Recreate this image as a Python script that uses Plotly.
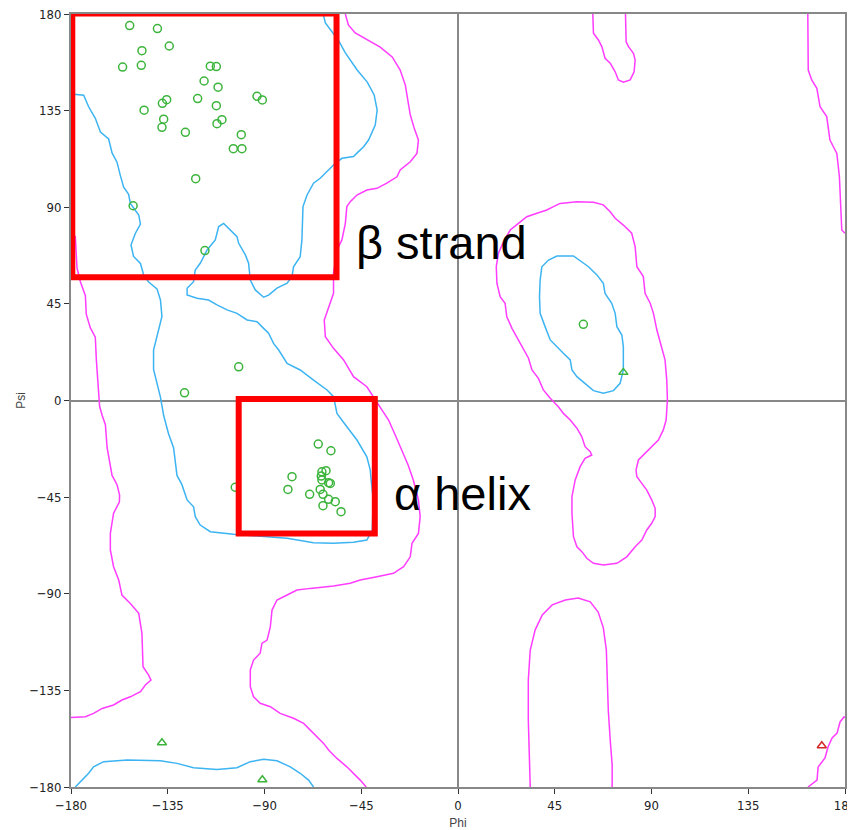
import plotly.graph_objects as go

# ---------------- data (phi, psi in degrees) ----------------
general_phi = [-152.7, -139.8, -134.3, -147.0, -156.0, -147.3, -115.2, -112.4, -118.1, -111.6,
               -93.5, -91.0, -121.1, -112.4, -135.5, -137.5, -146.0, -136.9, -137.7, -109.8,
               -112.1, -126.8, -100.8, -104.5, -100.5, -122.0, -151.1, -117.7,
               -102.0, -127.2, -103.6,
               -65.0, -59.1, -77.2, -79.1, -69.0, -63.3, -61.4, -63.6, -63.3, -60.2,
               -59.4, -64.1, -62.8, -60.2, -57.1, -62.8, -54.4,
               58.3]
general_psi = [174.6, 173.2, 165.1, 162.9, 155.3, 156.1, 155.7, 155.5, 148.8, 145.9,
               141.7, 140.0, 140.6, 137.3, 140.1, 138.4, 135.2, 131.0, 127.2, 130.8,
               128.9, 124.9, 123.8, 117.3, 117.3, 103.3, 90.7, 69.8,
               15.7, 3.6, -40.4,
               -20.3, -23.4, -35.5, -41.4, -43.7, -33.2, -32.7, -35.2, -37.0, -38.3,
               -38.6, -41.4, -43.7, -46.0, -47.1, -49.0, -51.8,
               35.5]

glycine_phi = [76.9, -137.7, -91.0]
glycine_psi = [13.1, -159.4, -176.6]

outlier_phi = [169.2]
outlier_psi = [-160.8]

# favoured-region contour (blue)
fav_main_phi = [-180, -178.0, -174.1, -171.8, -168.7, -166.3, -162.5, -160.9, -158.6, -157.0,
                -155.5, -153.2, -152.4, -148.5, -147.7, -150.1, -152.1, -150.9, -147.7, -146.2,
                -143.9, -140.0, -138.4, -137.7, -140.0, -141.6, -141.6, -140.0, -138.4, -136.9,
                -134.6, -132.3, -130.7, -128.4, -126.0, -123.0, -122.2, -119.9, -115.2, -104.4,
                -92.0, -79.5, -67.2, -57.9, -48.6, -42.4, -39.9, -39.4, -40.4, -40.8,
                -42.4, -47.0, -51.7, -56.3, -57.9, -60.9, -67.2, -73.4, -79.5, -83.4,
                -85.8, -88.1, -90.4, -93.5, -98.1, -102.8, -107.4, -112.1, -116.0, -121.4,
                -126.0, -126.0, -123.0, -122.2, -119.9, -116.7, -112.9, -111.3, -109.0, -106.7,
                -102.8, -102.0, -98.9, -97.4, -96.6, -94.3, -90.4, -88.1, -84.2, -79.5,
                -77.2, -76.5, -73.4, -72.6, -72.1, -70.2, -67.2, -64.1, -60.2, -57.9,
                -54.0, -48.6, -46.3, -43.9, -41.6, -38.5, -37.6, -39.0, -42.2, -46.9,
                -52.4, -55.7, -61.7, -62.7]
fav_main_psi = [142.8, 142.6, 142.2, 136.8, 131.4, 125.0, 121.8, 115.3, 111.0, 104.6,
                99.3, 96.0, 91.8, 86.4, 82.1, 77.8, 72.4, 67.1, 63.8, 58.5,
                55.2, 52.0, 46.8, 39.1, 30.5, 23.5, 14.5, 8.0, 1.6, -7.0,
                -15.6, -22.0, -34.9, -39.2, -46.3, -49.5, -54.1, -58.0, -61.1, -62.3,
                -63.1, -64.2, -66.2, -66.5, -66.0, -65.0, -60.3, -46.3, -37.0, -32.4,
                -26.2, -18.4, -12.2, -6.0, 1.8, 4.9, 9.5, 14.2, 17.3, 23.5,
                26.6, 31.3, 33.6, 36.7, 37.5, 40.6, 42.2, 44.5, 46.8, 47.6,
                49.1, 52.3, 55.3, 60.8, 63.9, 70.1, 74.8, 81.0, 82.5, 80.2,
                76.3, 73.2, 67.8, 63.9, 56.1, 51.5, 48.1, 49.1, 52.3, 54.6,
                57.7, 62.3, 67.0, 74.8, 90.3, 95.7, 101.2, 103.5, 107.4, 109.7,
                112.8, 113.6, 115.9, 118.2, 121.3, 128.3, 135.3, 142.3, 148.3, 153.9,
                161.9, 167.9, 175.8, 180]

fav_bottom_phi = [-178.0, -175.6, -171.8, -169.5, -164.8, -153.9, -138.4, -130.7, -123.0, -112.1,
                  -102.8, -96.6, -90.4, -84.2, -78.0, -73.4, -69.5, -67.2]
fav_bottom_psi = [-180, -177.6, -173.6, -170.6, -168.2, -167.4, -167.8, -169.0, -171.0, -171.8,
                  -171.0, -168.2, -167.1, -167.8, -170.6, -173.6, -176.8, -180]

fav_left_hand_phi = [38.2, 39.0, 42.1, 46.0, 53.7, 57.6, 60.7, 64.6, 67.6, 68.4,
                     71.5, 73.1, 73.9, 76.2, 76.9, 76.9, 75.4, 72.3, 67.6, 63.0,
                     59.1, 55.3, 53.0, 52.2, 49.0, 46.0, 42.9, 40.5, 38.2, 37.9, 38.2]
fav_left_hand_psi = [56.1, 62.3, 65.4, 67.3, 67.3, 64.6, 62.3, 58.5, 54.6, 49.9,
                     45.3, 40.6, 34.4, 30.5, 25.1, 14.2, 8.0, 4.6, 3.4, 4.6,
                     8.0, 11.1, 14.2, 18.9, 22.0, 25.1, 28.2, 34.4, 40.6, 48.3, 56.1]

# allowed-region contours (magenta)
alw_left_phi = [-180, -178.0, -177.2, -175.6, -173.3, -172.9, -171.0, -168.7, -168.2, -167.1,
                -166.7, -165.5, -164.0, -163.2, -160.9, -158.6, -157.4, -157.5, -160.2, -161.7,
                -161.7, -160.2, -157.8, -156.3, -152.4, -148.5, -147.0, -146.5, -143.9, -142.8,
                -145.4, -147.7, -152.4, -156.3, -160.2, -165.5, -169.5, -173.3, -179.5, -180]
alw_left_psi = [78.0, 76.3, 61.7, 55.2, 48.8, 40.2, 33.8, 29.5, 18.8, 5.9,
                -2.7, -7.0, -11.3, -22.0, -34.9, -39.2, -44.0, -47.3, -52.5, -61.9,
                -69.6, -77.4, -83.6, -90.6, -94.5, -99.1, -108.4, -124.0, -127.9, -130.2,
                -132.5, -135.6, -138.0, -139.5, -141.8, -143.4, -145.7, -147.3, -147.6, -147.6]

alw_mid_phi = [-52.4, -51.0, -47.8, -41.7, -36.2, -30.6, -26.9, -24.5, -23.2, -22.2,
               -20.4, -18.4, -19.1, -22.2, -26.9, -28.4, -33.1, -37.7, -42.4, -47.0,
               -50.1, -51.7, -52.4, -54.0, -56.3, -57.9, -57.9, -60.2, -62.2, -61.7,
               -57.9, -53.2, -48.6, -42.4, -39.3, -36.2, -32.3, -29.2, -26.0, -23.2,
               -20.8, -18.4, -17.6, -18.4, -21.4, -22.2, -25.3, -30.0, -37.7, -45.5,
               -50.1, -57.9, -68.7, -74.9, -79.5, -84.2, -86.5, -87.3, -88.8, -91.2,
               -92.0, -95.1, -96.6, -96.6, -95.1, -92.0, -87.3, -82.7, -76.5, -71.8,
               -68.7, -65.6, -62.5, -60.2, -56.3, -51.7, -48.6, -45.5, -42.7]
alw_mid_psi = [180, 174.9, 171.2, 167.9, 164.6, 160.0, 153.9, 146.9, 139.9, 133.0,
               126.9, 121.3, 115.1, 111.2, 107.4, 104.2, 101.2, 98.8, 98.0, 95.7,
               92.6, 90.3, 82.5, 74.8, 70.1, 59.2, 49.9, 43.7, 37.5, 29.7,
               24.3, 18.9, 11.1, 6.4, 1.8, -2.9, -9.1, -16.1, -23.1, -30.0,
               -37.0, -46.3, -54.1, -61.9, -66.5, -72.8, -77.4, -80.5, -82.1, -83.6,
               -85.1, -86.4, -87.5, -88.3, -90.6, -92.9, -97.6, -105.4, -111.6, -113.1,
               -117.7, -120.9, -125.5, -133.3, -138.0, -141.0, -142.6, -145.7, -148.0, -150.4,
               -153.5, -156.6, -159.7, -162.8, -166.7, -170.6, -173.6, -176.8, -180]

alw_right_phi = [47.5, 55.3, 63.0, 67.6, 70.8, 73.1, 76.9, 80.8, 82.4, 83.2,
                 86.2, 87.0, 89.4, 90.9, 92.5, 94.8, 96.3, 97.1, 97.4, 96.8,
                 95.5, 93.2, 90.1, 87.0, 83.9, 82.8, 83.2, 85.5, 87.8, 90.1,
                 91.7, 91.7, 90.1, 87.8, 85.5, 82.4, 78.5, 73.9, 67.6, 63.0,
                 59.9, 57.6, 55.3, 53.7, 53.0, 53.0, 54.5, 56.8, 59.1, 62.2,
                 61.5, 59.1, 57.6, 55.3, 52.2, 49.0, 46.7, 42.9, 39.7, 37.4,
                 34.4, 32.8, 29.7, 27.4, 25.1, 22.7, 21.9, 19.6, 18.1, 17.8,
                 18.8, 21.2, 24.3, 28.1, 32.0, 36.7, 41.3, 44.4, 47.5]
alw_right_psi = [91.8, 92.6, 92.3, 91.1, 87.9, 84.9, 81.7, 77.9, 71.6, 62.3,
                 57.7, 49.9, 45.3, 40.6, 32.8, 25.1, 18.9, 9.5, 0.2, -9.1,
                 -13.7, -18.4, -21.5, -24.6, -27.7, -32.4, -35.5, -38.6, -41.7, -46.3,
                 -50.2, -54.1, -57.2, -60.3, -65.0, -68.1, -72.8, -75.8, -76.6, -75.8,
                 -73.5, -70.4, -68.1, -63.4, -52.5, -44.8, -37.0, -30.8, -26.9, -25.4,
                 -23.8, -21.5, -16.9, -12.9, -9.1, -6.0, -2.9, 1.0, 4.9, 10.3,
                 14.2, 19.7, 25.1, 29.7, 33.6, 39.0, 45.3, 48.3, 54.6, 62.3,
                 68.6, 74.0, 79.4, 82.5, 85.6, 87.2, 88.7, 90.3, 91.8]

alw_bottom_phi = [33.6, 33.1, 32.7, 32.7, 33.6, 35.9, 39.2, 43.8, 49.9, 55.9,
                  61.5, 65.2, 67.6, 69.0, 69.4, 69.9, 70.8, 71.7, 71.7]
alw_bottom_psi = [-180, -167.4, -148.8, -130.2, -116.2, -106.8, -99.9, -95.2, -92.9, -92.0,
                  -93.8, -98.5, -105.9, -116.2, -130.2, -144.2, -158.1, -169.7, -180]

alw_top_phi = [62.7, 63.0, 65.3, 66.9, 68.4, 70.8, 73.1, 74.6, 76.9, 80.1,
               81.9, 82.4, 81.6, 79.3, 78.2, 77.9]
alw_top_psi = [180, 171.0, 167.9, 164.8, 159.4, 157.1, 153.1, 149.3, 148.2, 149.3,
               153.1, 158.6, 161.7, 164.8, 167.1, 180]

alw_edge_top_phi = [162.7, 162.9, 164.5, 166.9, 168.4, 171.5, 173.0, 176.2, 177.4, 178.0, 178.5, 180]
alw_edge_top_psi = [180, 153.9, 149.3, 145.4, 136.8, 132.2, 121.3, 115.1, 104.2, 88.7, 79.4, 77.9]

alw_edge_bot_phi = [162.8, 167.0, 167.5, 170.7, 172.1, 174.0, 176.3, 177.7, 179.5, 180]
alw_edge_bot_psi = [-180, -176.8, -170.7, -166.5, -161.4, -157.2, -154.9, -149.7, -147.4, -147.6]

tick_vals = [-180, -135, -90, -45, 0, 45, 90, 135, 180]

# highlighted regions and labels
beta_box = dict(phi0=-179.4, phi1=-56.5, psi0=57.4, psi1=180.2)
alpha_box = dict(phi0=-102.0, phi1=-38.7, psi0=-61.9, psi1=0.7)
labels = ["β strand", "α helix"]

# ---------------- figure ----------------
BLUE = "#3db4f2"
MAGENTA = "#ff3cff"
GREEN = "#3cb43c"
RED = "#d22828"

fig = go.Figure()

for px, py in [(fav_main_phi, fav_main_psi), (fav_bottom_phi, fav_bottom_psi),
               (fav_left_hand_phi, fav_left_hand_psi)]:
    fig.add_trace(go.Scatter(x=px, y=py, mode="lines", line=dict(color=BLUE, width=1.5),
                             hoverinfo="skip", showlegend=False))

for px, py in [(alw_left_phi, alw_left_psi), (alw_mid_phi, alw_mid_psi),
               (alw_right_phi, alw_right_psi), (alw_bottom_phi, alw_bottom_psi),
               (alw_top_phi, alw_top_psi), (alw_edge_top_phi, alw_edge_top_psi),
               (alw_edge_bot_phi, alw_edge_bot_psi)]:
    fig.add_trace(go.Scatter(x=px, y=py, mode="lines", line=dict(color=MAGENTA, width=1.5),
                             hoverinfo="skip", showlegend=False))

fig.add_trace(go.Scatter(x=general_phi, y=general_psi, mode="markers",
                         marker=dict(symbol="circle-open", size=8, color=GREEN,
                                     line=dict(width=1.5, color=GREEN)),
                         showlegend=False))
fig.add_trace(go.Scatter(x=glycine_phi, y=glycine_psi, mode="markers",
                         marker=dict(symbol="triangle-up-open", size=8, color=GREEN,
                                     line=dict(width=1.5, color=GREEN)),
                         showlegend=False))
fig.add_trace(go.Scatter(x=outlier_phi, y=outlier_psi, mode="markers",
                         marker=dict(symbol="triangle-up-open", size=8, color=RED,
                                     line=dict(width=1.5, color=RED)),
                         showlegend=False))

for b in (beta_box, alpha_box):
    fig.add_shape(type="rect", xref="x", yref="y", x0=b["phi0"], x1=b["phi1"],
                  y0=b["psi0"], y1=b["psi1"], line=dict(color="#ff0000", width=6),
                  layer="above")

fig.add_annotation(x=-48.3, y=73.4, xref="x", yref="y", text=labels[0], showarrow=False,
                   xanchor="left", yanchor="middle",
                   font=dict(family="Liberation Sans, Arial, sans-serif", size=47, color="black"))
fig.add_annotation(x=-30.6, y=-43.5, xref="x", yref="y", text=labels[1], showarrow=False,
                   xanchor="left", yanchor="middle",
                   font=dict(family="Liberation Sans, Arial, sans-serif", size=47, color="black"))

axis_common = dict(range=[-180, 180], tickvals=tick_vals, ticks="outside", ticklen=5,
                   tickcolor="#333333", tickwidth=1, automargin=False,
                   ticklabeloverflow="allow",
                   showline=True, linecolor="#888888", linewidth=2, mirror=True,
                   showgrid=False, zeroline=True, zerolinecolor="#888888", zerolinewidth=2,
                   tickfont=dict(family="Liberation Sans Narrow, DejaVu Sans Condensed, Arial",
                                 size=13, color="#222222"))

# the page body adds an 8 px offset, so the figure is sized to fit the window
fig.update_layout(
    width=847, height=822,
    margin=dict(l=63, r=10, t=6, b=43),
    paper_bgcolor="white", plot_bgcolor="white",
    xaxis=dict(title=dict(text="Phi", standoff=8,
                          font=dict(family="Liberation Sans, Arial", size=12, color="#444444")),
               **axis_common),
    yaxis=dict(title=dict(text="Psi", standoff=1,
                          font=dict(family="Liberation Sans, Arial", size=12, color="#444444")),
               **axis_common),
)

fig.write_html("out.html")
